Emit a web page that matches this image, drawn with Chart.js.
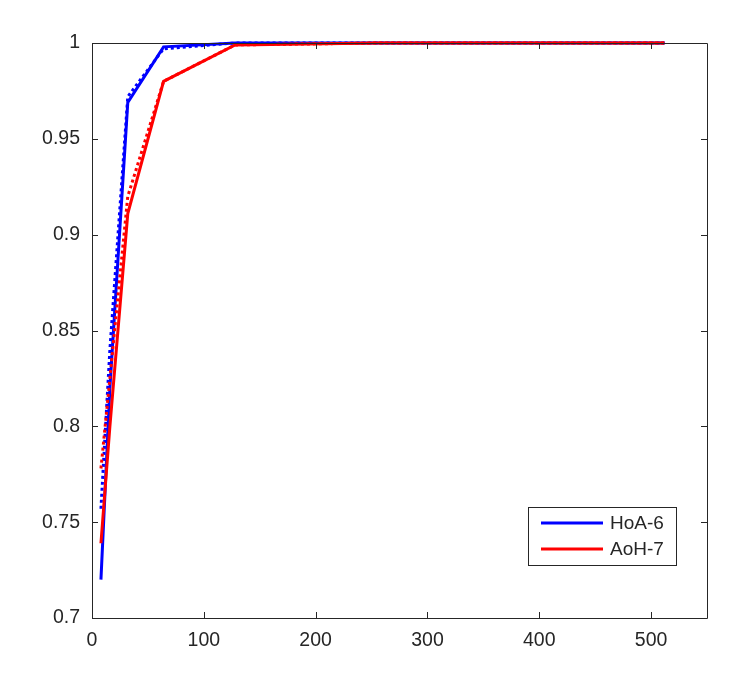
<!DOCTYPE html>
<html>

<head>
    <title>HoA-6 vs AoH-7</title>
    <style>
        body {
            margin: 0;
            background: #fff;
        }
    </style>
    <script src="https://cdn.jsdelivr.net/npm/chart.js"></script>
</head>

<body>
    <canvas id="myChart" width="755" height="690"></canvas>

    <script>
        // x positions (block sizes)
        const xValues = [8, 16, 32, 64, 128, 256, 512];

        // series values
        const hoaSolid = [0.720, 0.820, 0.969, 0.998, 1.000, 1.000, 1.000];
        const hoaDotted = [0.757, 0.840, 0.972, 0.997, 1.000, 1.000, 1.000];
        const aohSolid = [0.739, 0.800, 0.911, 0.980, 0.999, 1.000, 1.000];
        const aohDotted = [0.778, 0.825, 0.920, 0.980, 0.999, 1.000, 1.000];

        // tick labels
        const xTicks = [0, 100, 200, 300, 400, 500];
        const yTicks = [0.7, 0.75, 0.8, 0.85, 0.9, 0.95, 1];
        const yTickLabels = ['0.7', '0.75', '0.8', '0.85', '0.9', '0.95', '1'];

        const legendLabels = ['HoA-6', 'AoH-7'];

        const FAMILY = '"Liberation Sans", Arial, sans-serif';
        const TEXT = '#262626';

        function toPoints(ys) {
            return xValues.map((x, i) => ({ x: x, y: ys[i] }));
        }

        function series(label, ys, color, dotted, order) {
            return {
                label: label,
                data: toPoints(ys),
                borderColor: color,
                backgroundColor: color,
                borderWidth: 3,
                borderDash: dotted ? [3, 3] : [],
                pointRadius: 0,
                tension: 0,
                fill: false,
                clip: false,
                order: order
            };
        }

        // box, inward ticks (matlab style) and legend
        const axesBox = {
            id: 'axesBox',
            afterDatasetsDraw(chart) {
                const ctx = chart.ctx;
                const a = chart.chartArea;
                const xs = chart.scales.x;
                const ys = chart.scales.y;
                ctx.save();
                ctx.strokeStyle = TEXT;
                ctx.lineWidth = 1;
                ctx.beginPath();
                ctx.rect(a.left + 0.5, a.top + 0.5, a.right - a.left, a.bottom - a.top);
                ctx.stroke();
                ctx.beginPath();
                xTicks.forEach(v => {
                    const px = Math.round(xs.getPixelForValue(v)) + 0.5;
                    ctx.moveTo(px, a.bottom);
                    ctx.lineTo(px, a.bottom - 6);
                    ctx.moveTo(px, a.top);
                    ctx.lineTo(px, a.top + 6);
                });
                yTicks.forEach(v => {
                    const py = Math.round(ys.getPixelForValue(v)) + 0.5;
                    ctx.moveTo(a.left, py);
                    ctx.lineTo(a.left + 6, py);
                    ctx.moveTo(a.right, py);
                    ctx.lineTo(a.right - 6, py);
                });
                ctx.stroke();

                // legend
                const bx = 528, by = 507, bw = 148, bh = 58;
                ctx.fillStyle = '#fff';
                ctx.fillRect(bx, by, bw, bh);
                ctx.strokeStyle = '#262626';
                ctx.strokeRect(bx + 0.5, by + 0.5, bw, bh);
                const colors = [chart.data.datasets[0].borderColor, chart.data.datasets[2].borderColor];
                ctx.font = '19px ' + FAMILY;
                ctx.textBaseline = 'middle';
                legendLabels.forEach((lab, i) => {
                    const y = by + 16 + i * 26;
                    ctx.strokeStyle = colors[i];
                    ctx.lineWidth = 3;
                    ctx.beginPath();
                    ctx.moveTo(bx + 13, y);
                    ctx.lineTo(bx + 75, y);
                    ctx.stroke();
                    ctx.fillStyle = TEXT;
                    ctx.fillText(lab, bx + 82, y + 1);
                });
                ctx.restore();
            }
        };

        const ctx = document.getElementById('myChart').getContext('2d');

        const myChart = new Chart(ctx, {
            type: 'line',
            data: {
                datasets: [
                    series('HoA-6', hoaSolid, '#0000ff', false, 4),
                    series('HoA-6 (dotted)', hoaDotted, '#0000ff', true, 3),
                    series('AoH-7', aohSolid, '#ff0000', false, 2),
                    series('AoH-7 (dotted)', aohDotted, '#ff0000', true, 1)
                ]
            },
            options: {
                responsive: false,
                animation: false,
                layout: {
                    padding: { left: 0, top: 43, right: 48, bottom: 0 }
                },
                plugins: {
                    legend: { display: false },
                    tooltip: { enabled: false }
                },
                scales: {
                    x: {
                        type: 'linear',
                        min: 0,
                        max: 550,
                        afterBuildTicks: s => { s.ticks = xTicks.map(v => ({ value: v })); },
                        afterFit: s => { s.height = 72; },
                        grid: { display: false, drawTicks: false },
                        border: { display: false },
                        ticks: {
                            color: TEXT,
                            font: { family: FAMILY, size: 19.5 },
                            padding: 11,
                            maxRotation: 0
                        }
                    },
                    y: {
                        type: 'linear',
                        min: 0.7,
                        max: 1,
                        afterBuildTicks: s => { s.ticks = yTicks.map(v => ({ value: v })); },
                        afterFit: s => { s.width = 92; },
                        grid: { display: false, drawTicks: false },
                        border: { display: false },
                        ticks: {
                            color: TEXT,
                            font: { family: FAMILY, size: 19.5 },
                            padding: 12,
                            callback: (v, i) => yTickLabels[i]
                        }
                    }
                }
            },
            plugins: [axesBox]
        });
    </script>
</body>

</html>
